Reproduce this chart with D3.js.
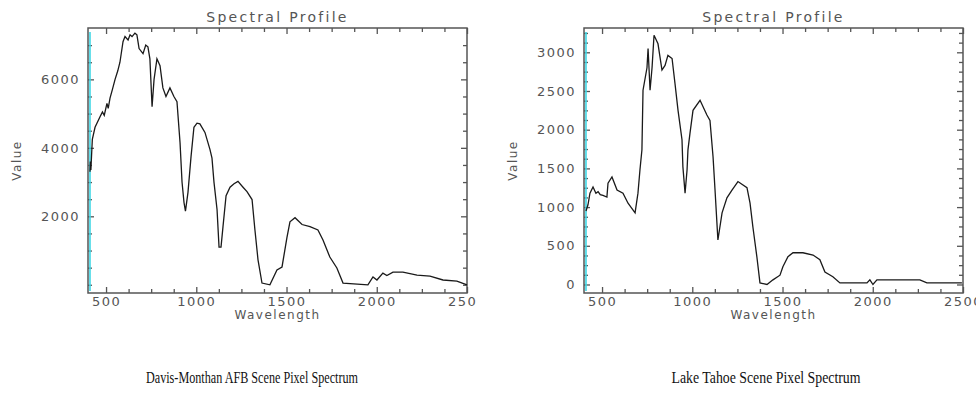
<!DOCTYPE html>
<html>
<head>
<meta charset="utf-8">
<script src="https://cdn.jsdelivr.net/npm/d3@7"></script>
<style>
  body { margin: 0; background: #fff; }
  .tick text { font-family: "DejaVu Sans", sans-serif; font-size: 13px; letter-spacing: 1.5px; fill: #555; }
  .tick line, .domain { stroke: #555; }
  .title, .alabel { font-family: "DejaVu Sans", sans-serif; fill: #555; }
  .caption { font-family: "Liberation Serif", serif; font-size: 16px; fill: #111; }
</style>
</head>
<body>
<div id="chart"></div>
<script>
// Davis-Monthan AFB spectrum (wavelength nm, value)
var dmWave = [411, 413, 416, 419, 424, 439, 466, 480, 490, 505, 512, 522, 535, 550, 565, 577, 594, 605, 622, 633, 644, 660, 671, 683, 705, 720, 732, 743, 755, 766, 782, 799, 815, 832, 854, 876, 893, 910, 921, 932, 940, 954, 971, 987, 1004, 1020, 1048, 1076, 1087, 1098, 1115, 1126, 1137, 1148, 1165, 1187, 1209, 1231, 1259, 1281, 1309, 1325, 1342, 1364, 1408, 1447, 1475, 1502, 1519, 1547, 1586, 1630, 1674, 1702, 1740, 1779, 1813, 1951, 1979, 2001, 2034, 2056, 2090, 2145, 2223, 2295, 2367, 2444, 2500];
var dmValue = [3300, 3600, 3350, 3700, 4250, 4600, 4900, 5050, 4950, 5300, 5150, 5450, 5700, 6000, 6250, 6500, 7100, 7250, 7150, 7300, 7250, 7350, 7300, 6900, 6750, 7000, 6950, 6600, 5200, 6000, 6600, 6400, 5750, 5500, 5750, 5500, 5350, 4150, 3000, 2400, 2150, 2700, 3750, 4600, 4720, 4700, 4450, 3950, 3700, 3000, 2200, 1100, 1100, 1700, 2600, 2850, 2950, 3020, 2850, 2720, 2490, 1600, 730, 50, 0, 430, 520, 1370, 1840, 1960, 1760, 1700, 1600, 1310, 810, 490, 50, 0, 230, 140, 340, 270, 370, 370, 280, 250, 140, 110, 0];

// Lake Tahoe spectrum
var ltWave = [411, 422, 433, 450, 466, 478, 490, 505, 527, 533, 555, 583, 616, 644, 683, 699, 710, 721, 727, 749, 755, 766, 777, 788, 810, 832, 849, 865, 888, 904, 921, 943, 948, 960, 971, 976, 987, 1004, 1043, 1081, 1098, 1115, 1126, 1142, 1165, 1192, 1220, 1253, 1303, 1320, 1336, 1358, 1375, 1414, 1447, 1486, 1502, 1530, 1558, 1613, 1669, 1707, 1735, 1779, 1818, 1968, 1984, 2001, 2023, 2261, 2300, 2494];
var ltValue = [950, 1030, 1180, 1260, 1180, 1200, 1160, 1150, 1130, 1310, 1390, 1220, 1180, 1050, 925, 1180, 1480, 1740, 2510, 2800, 3050, 2510, 2800, 3220, 3110, 2770, 2830, 2960, 2920, 2600, 2250, 1870, 1520, 1180, 1480, 1740, 1950, 2250, 2380, 2190, 2120, 1650, 1220, 575, 925, 1120, 1220, 1330, 1250, 1050, 740, 355, 20, 0, 60, 120, 230, 360, 410, 410, 380, 320, 160, 100, 20, 20, 60, 0, 60, 60, 20, 20];

var xTicks = [500, 1000, 1500, 2000, 2500];
var dmYTicks = [2000, 4000, 6000];
var ltYTicks = [0, 500, 1000, 1500, 2000, 2500, 3000];
var bandMarker = 411;

var panels = [
  { wave: dmWave, value: dmValue, yTicks: dmYTicks, yStep: 500, yDomain: [-240, 7500],
    left: 88, caption: "Davis-Monthan AFB Scene Pixel Spectrum", clip: 477, capX: 252, capW: 212 },
  { wave: ltWave, value: ltValue, yTicks: ltYTicks, yStep: 125, yDomain: [-110, 3314],
    left: 584, caption: "Lake Tahoe Scene Pixel Spectrum", clip: 976, capX: 766, capW: 189 }
];

var width = 976, height = 410;
var plotTop = 28, plotBottom = 293, plotW = 379;

var svg = d3.select('#chart').append('svg')
    .attr('width', width)
    .attr('height', height);

panels.forEach(function (p, i) {
    svg.append('clipPath').attr('id', 'clip' + i)
        .append('rect').attr('x', 0).attr('y', 0).attr('width', p.clip).attr('height', height);

    var g = svg.append('g').attr('clip-path', 'url(#clip' + i + ')');

    var x = d3.scaleLinear().domain([400, 2500]).range([p.left, p.left + plotW]);
    var y = d3.scaleLinear().domain(p.yDomain).range([plotBottom, plotTop]);

    var xMinor = d3.range(500, 2501, 125).filter(v => xTicks.indexOf(v) < 0);
    var yMinor = d3.range(0, p.yDomain[1], p.yStep).filter(v => p.yTicks.indexOf(v) < 0);

    // bottom
    g.append('g').attr('transform', `translate(0,${plotBottom})`)
        .call(d3.axisBottom(x).tickValues(xMinor).tickSize(-4).tickFormat(''));
    g.append('g').attr('transform', `translate(0,${plotBottom})`)
        .call(d3.axisBottom(x).tickValues(xTicks).tickSize(-6).tickPadding(4).tickFormat(d3.format('d')));
    // top
    g.append('g').attr('transform', `translate(0,${plotTop})`)
        .call(d3.axisTop(x).tickValues(xMinor).tickSize(-4).tickFormat(''));
    g.append('g').attr('transform', `translate(0,${plotTop})`)
        .call(d3.axisTop(x).tickValues(xTicks).tickSize(-6).tickFormat(''));
    // left
    g.append('g').attr('transform', `translate(${p.left},0)`)
        .call(d3.axisLeft(y).tickValues(yMinor).tickSize(-4).tickFormat(''));
    g.append('g').attr('transform', `translate(${p.left},0)`)
        .call(d3.axisLeft(y).tickValues(p.yTicks).tickSize(-6).tickPadding(8).tickFormat(d3.format('d')));
    // right
    g.append('g').attr('transform', `translate(${p.left + plotW},0)`)
        .call(d3.axisRight(y).tickValues(yMinor).tickSize(-4).tickFormat(''));
    g.append('g').attr('transform', `translate(${p.left + plotW},0)`)
        .call(d3.axisRight(y).tickValues(p.yTicks).tickSize(-6).tickFormat(''));

    g.selectAll('.domain').remove();
    g.selectAll('.tick line').attr('stroke-width', 1.3);
    g.selectAll('.tick text').attr('font-family', null).attr('font-size', null);

    g.append('rect')
        .attr('x', p.left).attr('y', plotTop)
        .attr('width', plotW).attr('height', plotBottom - plotTop)
        .attr('fill', 'none').attr('stroke', '#555').attr('stroke-width', 1.5);

    // band marker
    g.append('line')
        .attr('x1', x(bandMarker)).attr('x2', x(bandMarker))
        .attr('y1', plotTop + 4).attr('y2', plotBottom - 2)
        .attr('stroke', '#3fd6e4').attr('stroke-width', 1.6);

    var line = d3.line().x(d => x(d[0])).y(d => y(d[1]));
    g.append('path')
        .datum(d3.zip(p.wave, p.value))
        .attr('d', line)
        .attr('fill', 'none')
        .attr('stroke', '#1a1a1a')
        .attr('stroke-width', 1.3);

    g.append('text').attr('class', 'title')
        .attr('x', p.left + plotW / 2).attr('y', 22)
        .attr('text-anchor', 'middle')
        .style('font-size', '14px').style('letter-spacing', '2.3px')
        .text('Spectral Profile');

    g.append('text').attr('class', 'alabel')
        .attr('x', p.left + plotW / 2).attr('y', 319)
        .attr('text-anchor', 'middle')
        .style('font-size', '12px').style('letter-spacing', '1.5px')
        .text('Wavelength');

    g.append('text').attr('class', 'alabel')
        .attr('transform', `translate(${p.left - 67},${(plotTop + plotBottom) / 2})rotate(-90)`)
        .attr('text-anchor', 'middle')
        .style('font-size', '12px').style('letter-spacing', '1.5px')
        .text('Value');

    svg.append('text').attr('class', 'caption')
        .attr('x', p.capX).attr('y', 383)
        .attr('text-anchor', 'middle')
        .attr('textLength', p.capW)
        .attr('lengthAdjust', 'spacingAndGlyphs')
        .text(p.caption);
});
</script>
</body>
</html>
